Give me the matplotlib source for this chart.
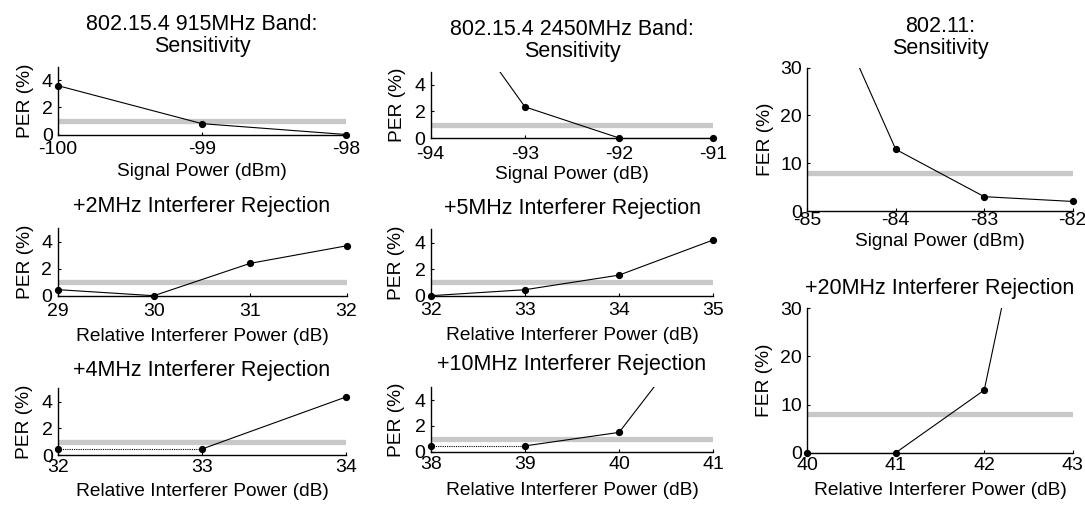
import matplotlib
matplotlib.use("Agg")
import matplotlib.pyplot as plt

plt.rcParams['font.family'] = ['Liberation Sans', 'DejaVu Sans']
plt.rcParams['axes.unicode_minus'] = False

# ---- measured error rates ----
sens915_dbm = [-100, -99, -98]
sens915_per = [3.6, 0.8, 0.0]

sens2450_db = [-94, -93, -92, -91]
sens2450_per = [12.3, 2.35, 0.0, 0.0]

wifi_sens_dbm = [-85, -84, -83, -82]
wifi_sens_fer = [54.5, 12.9, 3.0, 2.0]

rej2_db = [29, 30, 31, 32]
rej2_per = [0.45, 0.0, 2.4, 3.7]

rej5_db = [32, 33, 34, 35]
rej5_per = [0.0, 0.45, 1.55, 4.2]

rej4_db = [32, 33, 34]
rej4_per = [0.45, 0.45, 4.35]

rej10_db = [38, 39, 40, 41]
rej10_per = [0.45, 0.45, 1.5, 11.0]

rej20_db = [40, 41, 42, 43]
rej20_fer = [0.0, 0.0, 13.0, 100.0]

per_limit = 1.0
fer_limit = 8.0
per_ticks = [0, 2, 4]
fer_ticks = [0, 10, 20, 30]

W, H = 1085, 507
fig = plt.figure(figsize=(W / 100, H / 100), dpi=100)

FS_TITLE = 15.5
FS_LABEL = 13.8
FS_TICK = 14


def panel(box, x, y, limit, ytop, yticks, title, xlabel, ylabel,
          ylab_off, xlab_off, tick_pad, title_pad):
    left, right, top, bottom = box
    wpx, hpx = right - left, bottom - top
    ax = fig.add_axes([left / W, 1 - bottom / H, wpx / W, hpx / H])

    # acceptance threshold band
    ax.axhline(limit, color='#c8c8c8', lw=3.8, zorder=1)

    # measured curve; flat stretches drawn finely dotted
    for i in range(len(x) - 1):
        flat = y[i] == y[i + 1] and y[i] > 0
        ax.plot(x[i:i + 2], y[i:i + 2], color='black', lw=0.8,
                ls=(0, (1, 1)) if flat else '-', zorder=2,
                solid_capstyle='butt')
    px = [a for a, b in zip(x, y) if b <= ytop]
    py = [b for b in y if b <= ytop]
    ax.plot(px, py, 'o', color='black', ms=4.2, clip_on=False, zorder=3)

    ax.set_xlim(x[0], x[-1])
    ax.set_ylim(0, ytop)
    ax.set_xticks(x)
    ax.set_yticks(yticks)
    for s in ('top', 'right'):
        ax.spines[s].set_visible(False)
    for s in ('left', 'bottom'):
        ax.spines[s].set_linewidth(1.0)
    ax.tick_params(direction='in', length=2.5, width=0.8, labelsize=FS_TICK)
    ax.tick_params(axis='x', pad=tick_pad)
    ax.tick_params(axis='y', pad=3.8)

    ax.set_title(title, fontsize=FS_TITLE, pad=title_pad + 3.6, linespacing=1.05)
    ax.set_xlabel(xlabel, fontsize=FS_LABEL)
    ax.set_ylabel(ylabel, fontsize=FS_LABEL)
    ax.yaxis.set_label_coords(ylab_off / wpx, 0.5)
    ax.xaxis.set_label_coords(0.5, -xlab_off / hpx)
    return ax


RIP = 'Relative Interferer Power (dB)'

panel((58, 346, 66.7, 134.5), sens915_dbm, sens915_per, per_limit, 5, per_ticks,
      '802.15.4 915MHz Band:\nSensitivity', 'Signal Power (dBm)', 'PER (%)',
      -24, 28.5, 4.8, 6.8)
panel((430.7, 713.3, 71.7, 138), sens2450_db, sens2450_per, per_limit, 5, per_ticks,
      '802.15.4 2450MHz Band:\nSensitivity', 'Signal Power (dB)', 'PER (%)',
      -25, 28.4, 6.0, 6.8)
panel((807.3, 1072.7, 67.7, 211), wifi_sens_dbm, wifi_sens_fer, fer_limit, 30, fer_ticks,
      '802.11:\nSensitivity', 'Signal Power (dBm)', 'FER (%)',
      -33, 22.3, 0.5, 6.3)
panel((57.5, 346.5, 228.3, 295.7), rej2_db, rej2_per, per_limit, 5, per_ticks,
      '+2MHz Interferer Rejection', RIP, 'PER (%)',
      -24, 32.6, 5.5, 8.0)
panel((430.7, 713.3, 229.3, 295.7), rej5_db, rej5_per, per_limit, 5, per_ticks,
      '+5MHz Interferer Rejection', RIP, 'PER (%)',
      -25.5, 31, 4.3, 7.5)
panel((58, 346, 388.3, 455), rej4_db, rej4_per, per_limit, 5, per_ticks,
      '+4MHz Interferer Rejection', RIP, 'PER (%)',
      -24.5, 28, 3.0, 5.6)
panel((430.7, 713.3, 387.3, 451.7), rej10_db, rej10_per, per_limit, 5, per_ticks,
      '+10MHz Interferer Rejection', RIP, 'PER (%)',
      -25.5, 30, 3.0, 8.5)
panel((807.3, 1072.7, 308.3, 452.7), rej20_db, rej20_fer, fer_limit, 30, fer_ticks,
      '+20MHz Interferer Rejection', RIP, 'FER (%)',
      -34, 29, 3.0, 6.8)

fig.savefig('out.png', dpi=100)
